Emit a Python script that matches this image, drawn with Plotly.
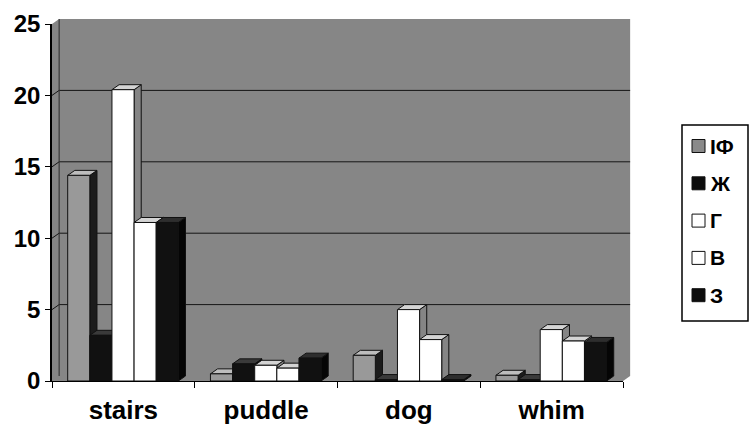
import plotly.graph_objects as go

# Categories and series values
categories = ["stairs", "puddle", "dog", "whim"]
series_names = ["IФ", "Ж", "Г", "В", "З"]
v_if = [14.4, 0.5, 1.8, 0.4]
v_zh = [3.2, 1.2, 0.1, 0.1]
v_g = [20.4, 1.1, 5.0, 3.6]
v_v = [11.1, 0.9, 2.9, 2.8]
v_z = [11.1, 1.6, 0.1, 2.7]
y_ticks = [0, 5, 10, 15, 20, 25]

series_values = [v_if, v_zh, v_g, v_v, v_z]

# front / top / side colours of each series' columns
front_cols = ["#999999", "#111111", "#ffffff", "#ffffff", "#111111"]
top_cols = ["#bdbdbd", "#3a3a3a", "#d4d4d4", "#d4d4d4", "#2e2e2e"]
side_cols = ["#1c1c1c", "#050505", "#858585", "#858585", "#050505"]

X_RANGE = [-0.5, len(categories) - 0.5]
Y_RANGE = [0, 25]
BAR_W = 0.155          # width of one column, in category units
GROUP_START = -0.39    # left edge of the first column relative to the category centre
DX, DY = 0.05, 0.35    # depth offset of the pseudo-3D faces (x units, y units)
WALL = "#868686"

positions = list(range(len(categories)))


def px(v):
    return (v - X_RANGE[0]) / (X_RANGE[1] - X_RANGE[0])


def py(v):
    return (v - Y_RANGE[0]) / (Y_RANGE[1] - Y_RANGE[0])


shapes = []

# back wall, side wall and floor as one grey region
x0, x1 = X_RANGE
y0, y1 = Y_RANGE
wall_pts = [(x0, y0), (x0, y1), (x0 + DX, y1 + DY), (x1 + DX, y1 + DY),
            (x1 + DX, y0 + DY), (x1, y0)]
wall_path = "M " + " L ".join(f"{px(a):.5f},{py(b):.5f}" for a, b in wall_pts) + " Z"
shapes.append(dict(type="path", path=wall_path, xref="paper", yref="paper",
                   fillcolor=WALL, line=dict(width=0), layer="below"))

# gridlines running along the side wall and the back wall
for t in y_ticks[1:-1]:
    p = (f"M {px(x0):.5f},{py(t):.5f} L {px(x0 + DX):.5f},{py(t + DY):.5f} "
         f"L {px(x1 + DX):.5f},{py(t + DY):.5f}")
    shapes.append(dict(type="path", path=p, xref="paper", yref="paper",
                       line=dict(color="#151515", width=1), layer="below"))

# back corner edge of the walls
shapes.append(dict(type="line", xref="paper", yref="paper",
                   x0=px(x0 + DX), x1=px(x0 + DX), y0=py(y0 + DY), y1=py(y1 + DY),
                   line=dict(color="#2a2a2a", width=1), layer="below"))

# side and top faces of every column
for j, vals in enumerate(series_values):
    for i, h in enumerate(vals):
        left = positions[i] + GROUP_START + BAR_W * j
        right = left + BAR_W
        side = (f"M {right},{0} L {right + DX},{DY} L {right + DX},{h + DY} "
                f"L {right},{h} Z")
        top = (f"M {left},{h} L {left + DX},{h + DY} L {right + DX},{h + DY} "
               f"L {right},{h} Z")
        shapes.append(dict(type="path", path=side, xref="x", yref="y",
                           fillcolor=side_cols[j], line=dict(color="#111111", width=1),
                           layer="below"))
        shapes.append(dict(type="path", path=top, xref="x", yref="y",
                           fillcolor=top_cols[j], line=dict(color="#111111", width=1),
                           layer="below"))

fig = go.Figure()
for j, (name, vals) in enumerate(zip(series_names, series_values)):
    fig.add_trace(go.Bar(
        x=positions, y=vals, name=name,
        width=BAR_W, offset=GROUP_START + BAR_W * j,
        marker=dict(color=front_cols[j], line=dict(color="#111111", width=1)),
        showlegend=False,
    ))

# legend box with keys and labels
PLOT_L, PLOT_R, PLOT_T, PLOT_B = 52, 623, 24, 381


def ppx(p):
    return (p - PLOT_L) / (PLOT_R - PLOT_L)


def ppy(p):
    return (PLOT_B - p) / (PLOT_B - PLOT_T)


shapes.append(dict(type="rect", xref="paper", yref="paper",
                   x0=ppx(682), x1=ppx(748), y0=ppy(321), y1=ppy(125),
                   fillcolor="white", line=dict(color="black", width=1.5)))
annotations = []
key_cols = ["#8a8a8a", "#0d0d0d", "#ffffff", "#ffffff", "#0d0d0d"]
for k, name in enumerate(series_names):
    cy = 146 + 37.3 * k
    shapes.append(dict(type="rect", xref="paper", yref="paper",
                       x0=ppx(692), x1=ppx(705), y0=ppy(cy + 6.5), y1=ppy(cy - 6.5),
                       fillcolor=key_cols[k], line=dict(color="#111111", width=1)))
    annotations.append(dict(text=name, xref="paper", yref="paper",
                            x=ppx(708), y=ppy(cy), xanchor="left", yanchor="middle",
                            showarrow=False,
                            font=dict(size=21, weight="bold", color="black",
                                      family="Liberation Sans, Arial, sans-serif")))

fig.update_layout(
    width=749, height=428,
    margin=dict(l=PLOT_L, r=749 - PLOT_R, t=PLOT_T, b=428 - PLOT_B),
    paper_bgcolor="white",
    plot_bgcolor="white",
    barmode="overlay",
    font=dict(family="Liberation Sans, Arial, sans-serif", color="black"),
    showlegend=False,
    shapes=shapes,
    annotations=annotations,
    xaxis=dict(
        range=X_RANGE,
        automargin=False,
        tickvals=positions, ticktext=categories,
        ticks="",
        ticklabelstandoff=6,
        minor=dict(tickvals=[p - 0.5 for p in positions] + [positions[-1] + 0.5],
                   ticks="outside", ticklen=6, tickcolor="black"),
        showline=True, linecolor="black", linewidth=1,
        tickfont=dict(size=26, weight="bold"),
        showgrid=False, zeroline=False,
    ),
    yaxis=dict(
        range=Y_RANGE, tickvals=y_ticks,
        automargin=False,
        showline=True, linecolor="black", linewidth=1.5,
        ticks="outside", ticklen=5, tickcolor="black",
        tickfont=dict(size=24, weight="bold"),
        showgrid=False, zeroline=False,
    ),
)

fig.write_html("out.html")
